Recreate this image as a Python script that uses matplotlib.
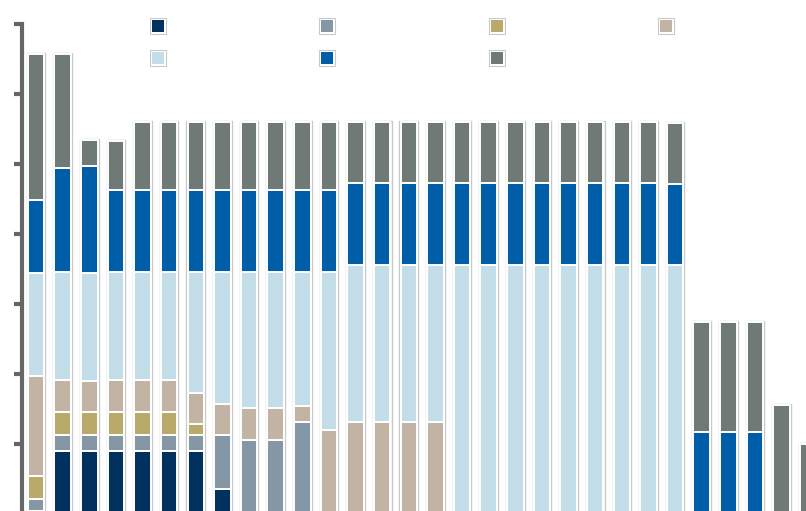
import numpy as np
import matplotlib
matplotlib.use('Agg')
import matplotlib.pyplot as plt
from matplotlib.lines import Line2D
from matplotlib.legend_handler import HandlerTuple

# values per bar, bottom to top (axis units, one tick = 1)
navy      = [0.05, 0.9, 0.9, 0.9, 0.9, 0.9, 0.9, 0.36, 0, 0, 0, 0, 0, 0, 0, 0,
             0, 0, 0, 0, 0, 0, 0, 0, 0, 0, 0, 0, 0, 0]
grey_blue = [0.16, 0.23, 0.23, 0.23, 0.23, 0.23, 0.23, 0.77, 1.06, 1.06, 1.31, 0, 0, 0, 0, 0,
             0, 0, 0, 0, 0, 0, 0, 0, 0, 0, 0, 0, 0, 0]
khaki     = [0.33, 0.33, 0.33, 0.33, 0.33, 0.33, 0.16, 0, 0, 0, 0, 0, 0, 0, 0, 0,
             0, 0, 0, 0, 0, 0, 0, 0, 0, 0, 0, 0, 0, 0]
tan       = [1.43, 0.45, 0.44, 0.45, 0.45, 0.45, 0.44, 0.44, 0.45, 0.45, 0.23, 1.2, 1.31, 1.31, 1.31, 1.31,
             0, 0, 0, 0, 0, 0, 0, 0, 0, 0, 0, 0, 0, 0]
light     = [1.47, 1.55, 1.54, 1.55, 1.55, 1.55, 1.73, 1.89, 1.95, 1.95, 1.92, 2.26, 2.25, 2.25, 2.25, 2.25,
             3.56, 3.56, 3.56, 3.56, 3.56, 3.56, 3.56, 3.56, 3.56, 0, 0, 0, 0, 0]
blue      = [1.05, 1.48, 1.53, 1.17, 1.17, 1.17, 1.17, 1.17, 1.17, 1.17, 1.17, 1.17, 1.17, 1.17, 1.17, 1.17,
             1.17, 1.17, 1.17, 1.17, 1.17, 1.17, 1.17, 1.17, 1.16, 1.17, 1.17, 1.17, 0, 0]
grey      = [2.08, 1.63, 0.37, 0.70, 0.97, 0.97, 0.97, 0.97, 0.97, 0.97, 0.97, 0.97, 0.87, 0.87, 0.87, 0.87,
             0.87, 0.87, 0.87, 0.87, 0.87, 0.87, 0.87, 0.87, 0.87, 1.57, 1.57, 1.57, 1.56, 1.0]

series = [navy, grey_blue, khaki, tan, light, blue, grey]
colors = ['#00315f', '#8597a4', '#b9a96b', '#c1b4a4', '#c3dde9', '#005ea8', '#6f7976']

n = len(grey)
x = np.arange(n)
totals = np.sum(series, axis=0)

fig = plt.figure(figsize=(8.06, 5.11), dpi=100)
# axes runs off the bottom/right edge like the cropped original
ax = fig.add_axes([22/806, 0, 784/806, 487/511])

# light grey outline around every stacked bar
ax.bar(x, totals + 0.03, width=0.70, bottom=-0.015, color='white',
       edgecolor='#c9c9c9', linewidth=1.0, zorder=1)

bottom = np.zeros(n)
for vals, col in zip(series, colors):
    vals = np.array(vals)
    ax.bar(x, vals, width=0.62, bottom=bottom, color=col,
           edgecolor='white', linewidth=1.4, zorder=2)
    bottom += vals

ax.set_xlim((22 - 36) / 26.63, (806 - 36) / 26.63)
ax.set_ylim(3 / 70, 7)
ax.set_yticks(np.arange(1, 8))
ax.set_yticklabels([])
ax.set_xticks([])
for s in ['top', 'right', 'bottom']:
    ax.spines[s].set_visible(False)
ax.spines['left'].set_color('#666666')
ax.spines['left'].set_linewidth(3)
ax.tick_params(axis='y', length=6, width=3, color='#666666', direction='out')

# legend: swatches only, 4 + 3 layout
handles = []
for col in colors:
    outer = Line2D([], [], ls='none', marker='s', markersize=12,
                   markerfacecolor='white', markeredgecolor='#c9c9c9', markeredgewidth=0.8)
    inner = Line2D([], [], ls='none', marker='s', markersize=8.5,
                   markerfacecolor=col, markeredgecolor=col, markeredgewidth=0)
    handles.append((outer, inner))
order = [0, 4, 1, 5, 2, 6, 3]
leg = fig.legend([handles[i] for i in order], [''] * 7, ncol=4,
                 handler_map={tuple: HandlerTuple(ndivide=1)},
                 loc='upper left', bbox_to_anchor=(151/806, 1 - 20/511),
                 frameon=False, fontsize=10, handlelength=1.0, handletextpad=0.0,
                 columnspacing=11.2, labelspacing=1.3, borderpad=0, borderaxespad=0)

fig.savefig('out.png', dpi=100)
